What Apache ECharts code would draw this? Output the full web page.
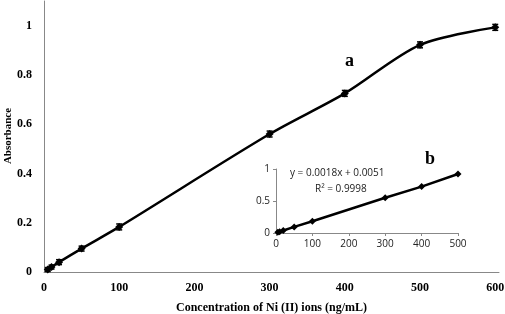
<!DOCTYPE html>
<html>
<head>
<meta charset="utf-8">
<script src="https://cdn.jsdelivr.net/npm/echarts@6/dist/echarts.min.js"></script>
<style>
  html, body { margin: 0; padding: 0; background: #fff; }
  #chart { width: 505px; height: 314px; }
</style>
</head>
<body>
<div id="chart"></div>
<script>
// concentration of Ni (II), ng/mL
const conc = [5, 10, 20, 50, 100, 300, 400, 500, 600];
// absorbance (curve a)
const absorb = [0.01, 0.02, 0.04, 0.095, 0.183, 0.56, 0.725, 0.922, 0.993];
// error bar half-widths
const errs = [0.008, 0.008, 0.01, 0.01, 0.012, 0.012, 0.012, 0.012, 0.012];
// inset calibration (curve b)
const concB = [5, 10, 20, 50, 100, 300, 400, 500];
const absorbB = [0.01, 0.02, 0.04, 0.095, 0.183, 0.55, 0.725, 0.922];

const serif = "Liberation Serif";
const sans = "Open Sans";

const chart = echarts.init(document.getElementById("chart"));

const option = {
  backgroundColor: "#fff",
  animation: false,
  grid: [
    { left: 44, right: 6, top: 1, bottom: 42, containLabel: false, outerBoundsMode: "none" },
    { left: 276, right: 47, top: 169, bottom: 81, containLabel: false, outerBoundsMode: "none" }
  ],
  xAxis: [
    {
      gridIndex: 0,
      type: "value",
      min: 0, max: 605, interval: 100,
      name: "Concentration of Ni (II) ions (ng/mL)",
      nameLocation: "middle",
      nameGap: 30,
      nameTextStyle: { fontFamily: serif, fontWeight: "bold", fontSize: 12, color: "#000" },
      axisLine: { lineStyle: { color: "#888", width: 1 } },
      axisTick: { show: false },
      splitLine: { show: false },
      axisLabel: {
        fontFamily: serif, fontWeight: "bold", fontSize: 12, color: "#000", margin: 10,
        formatter: (v) => (v > 600 ? "" : v)
      }
    },
    {
      gridIndex: 1,
      type: "value",
      min: 0, max: 500, interval: 100,
      axisLine: { lineStyle: { color: "#888", width: 1 } },
      axisTick: { show: true, length: 3, lineStyle: { color: "#888" } },
      splitLine: { show: false },
      axisLabel: { fontFamily: sans, fontSize: 10, color: "#222", margin: 6 }
    }
  ],
  yAxis: [
    {
      gridIndex: 0,
      type: "value",
      min: 0, max: 1.1, interval: 0.2,
      axisLine: { show: true, lineStyle: { color: "#888", width: 1 } },
      axisTick: { show: false },
      splitLine: { show: false },
      axisLabel: {
        fontFamily: serif, fontWeight: "bold", fontSize: 12, color: "#000", margin: 12,
        formatter: (v) => (v > 1.05 ? "" : +v.toFixed(1))
      }
    },
    {
      gridIndex: 1,
      type: "value",
      min: 0, max: 1, interval: 0.5,
      axisLine: { show: true, lineStyle: { color: "#888", width: 1 } },
      axisTick: { show: true, length: 3, lineStyle: { color: "#888" } },
      splitLine: { show: false },
      axisLabel: { fontFamily: sans, fontSize: 10, color: "#222", margin: 6 }
    }
  ],
  series: [
    {
      type: "line",
      xAxisIndex: 0, yAxisIndex: 0,
      data: conc.map((c, i) => [c, absorb[i]]),
      smooth: 0.3,
      symbol: "diamond",
      symbolSize: 8,
      itemStyle: { color: "#000" },
      lineStyle: { color: "#000", width: 2.5 },
      z: 3
    },
    {
      // error bars
      type: "custom",
      xAxisIndex: 0, yAxisIndex: 0,
      data: conc.map((c, i) => [c, absorb[i], errs[i]]),
      renderItem: (params, api) => {
        const x = api.value(0), y = api.value(1), e = api.value(2);
        const lo = api.coord([x, y - e]);
        const hi = api.coord([x, y + e]);
        const w = 3;
        const st = { stroke: "#000", lineWidth: 1.5 };
        return {
          type: "group",
          children: [
            { type: "line", shape: { x1: lo[0], y1: lo[1], x2: hi[0], y2: hi[1] }, style: st },
            { type: "line", shape: { x1: lo[0] - w, y1: lo[1], x2: lo[0] + w, y2: lo[1] }, style: st },
            { type: "line", shape: { x1: hi[0] - w, y1: hi[1], x2: hi[0] + w, y2: hi[1] }, style: st }
          ]
        };
      },
      z: 4
    },
    {
      type: "line",
      xAxisIndex: 1, yAxisIndex: 1,
      data: concB.map((c, i) => [c, absorbB[i]]),
      symbol: "diamond",
      symbolSize: 7,
      itemStyle: { color: "#000" },
      lineStyle: { color: "#000", width: 2.5 },
      z: 3
    }
  ],
  graphic: [
    {
      type: "text", x: 8, y: 136, rotation: Math.PI / 2,
      style: { text: "Absorbance", font: "bold 11px " + serif, fill: "#000", align: "center", verticalAlign: "middle" }
    },
    { type: "text", left: 345, top: 52, style: { text: "a", font: "bold 18px " + serif, fill: "#000" } },
    { type: "text", left: 425, top: 150, style: { text: "b", font: "bold 18px " + serif, fill: "#000" } },
    { type: "text", left: 290, top: 168, style: { text: "y = 0.0018x + 0.0051", font: "10px " + sans, fill: "#222" } },
    { type: "text", left: 315, top: 184, style: { text: "R² = 0.9998", font: "10px " + sans, fill: "#222" } }
  ]
};

chart.setOption(option);
</script>
</body>
</html>
